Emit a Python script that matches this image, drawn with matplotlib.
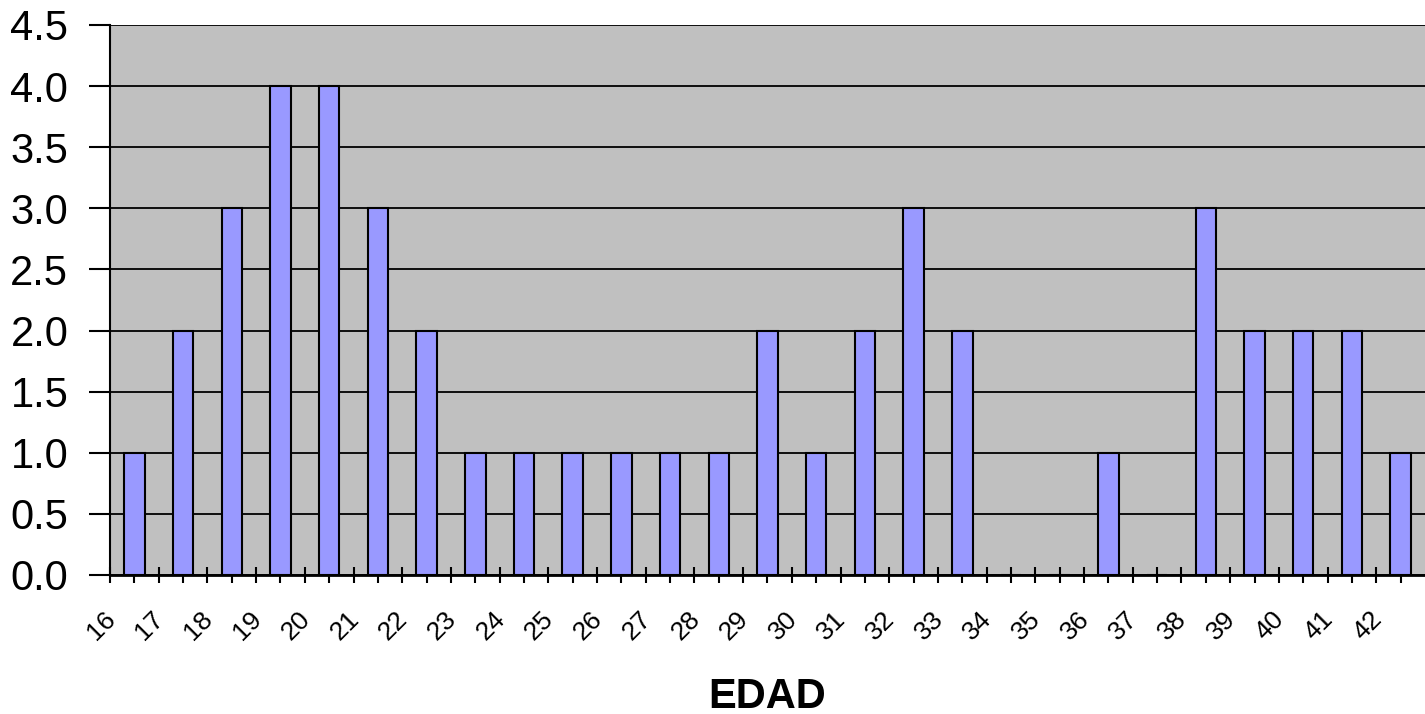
import numpy as np
import matplotlib.pyplot as plt
import matplotlib.transforms as mtransforms

plt.rcParams['font.family'] = ['Liberation Sans', 'DejaVu Sans']

edad = list(range(16, 43))
frecuencia = [1, 2, 3, 4, 4, 3, 2, 1, 1, 1, 1, 1, 1, 2, 1, 2, 3, 2,
              0, 0, 1, 0, 3, 2, 2, 2, 1]
y_ticks = [0.0, 0.5, 1.0, 1.5, 2.0, 2.5, 3.0, 3.5, 4.0, 4.5]

fig = plt.figure(figsize=(14.25, 7.14), dpi=100)
ax = fig.add_axes([110/1425, 1 - 575/714, 1 - 110/1425, (575 - 25)/714])
ax.set_facecolor('#C0C0C0')

# bars sit between the category labels, like the Excel original
x = np.array(edad) + 0.5
ax.bar(x, frecuencia, width=0.42, color='#9999FF', edgecolor='black',
       linewidth=1.5, zorder=3)

ax.set_xlim(16, 43)
ax.set_ylim(0, 4.5)
ax.set_yticks(y_ticks)
ax.set_yticklabels(['%.1f' % v for v in y_ticks], fontsize=30)
ax.yaxis.grid(True, color='black', linewidth=1.3, zorder=1)
ax.set_axisbelow(True)

ax.set_xticks(edad)
ax.set_xticks(x, minor=True)
ax.set_xticklabels([str(e) for e in edad], fontsize=19, rotation=45,
                   ha='right', va='top')

ax.tick_params(axis='x', which='both', direction='inout', length=12,
               width=1.5, pad=17)
ax.tick_params(axis='y', direction='out', length=15, width=1.5, pad=15)

# shift rotated labels a little to the right (after tick_params, which resets transforms)
offset = mtransforms.ScaledTranslation(10/100, 0, fig.dpi_scale_trans)
for lab in ax.get_xticklabels():
    lab.set_transform(lab.get_transform() + offset)

for s in ['top', 'right']:
    ax.spines[s].set_visible(False)
ax.spines['left'].set_linewidth(1.5)
ax.spines['bottom'].set_linewidth(2)

ax.set_xlabel('EDAD', fontsize=30, fontweight='bold', va='center')
ax.xaxis.set_label_coords(0.5, -0.221)

fig.savefig('out.png', dpi=100)
